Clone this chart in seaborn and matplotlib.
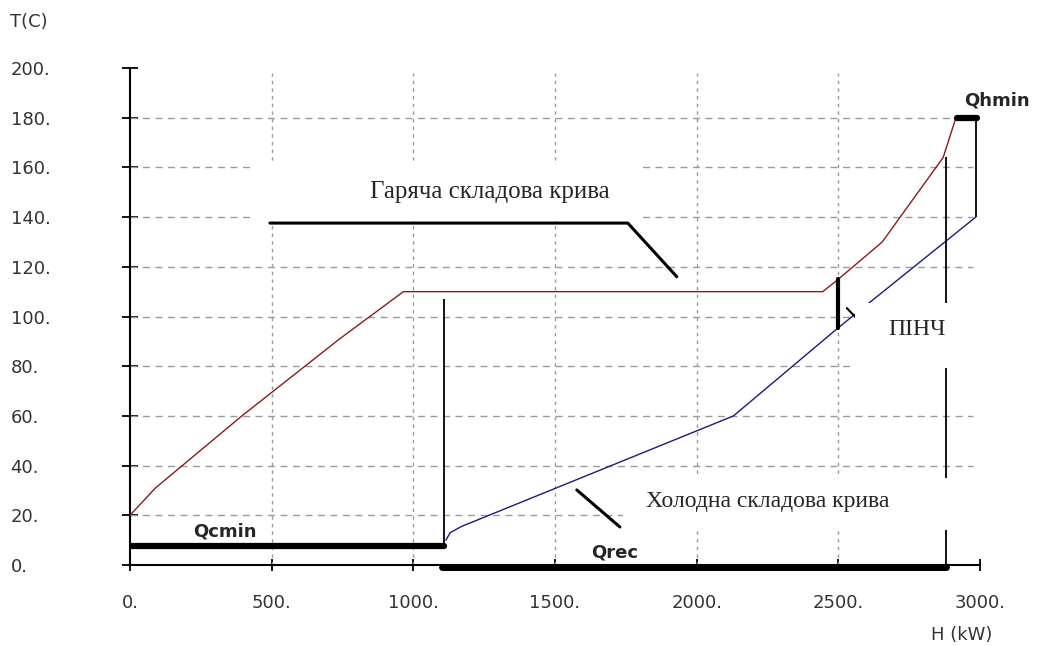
import pandas as pd
import numpy as np
import seaborn as sns
import matplotlib.pyplot as plt
from matplotlib.patches import Rectangle

# composite curves
hot_h = [0, 90, 395, 740, 965, 2445, 2500, 2655, 2870, 2915]
hot_t = [20, 31, 60, 91, 110, 110, 115, 130, 164, 180]
cold_h = [1115, 1130, 1170, 2130, 2500, 2985]
cold_t = [10, 13, 15.5, 60, 95.5, 140]

# energy targets (kW) and markers
qcmin = [0, 1110]
qcmin_t = 7.6
qrec = [1100, 2880]
qhmin = [2920, 2990]
qhmin_t = 180
pinch_h = 2500
pinch_t = [95.5, 115]
vert_h = [1108, 2880, 2985]
vert_lo = [8, 0, 140]
vert_hi = [107, 164, 180]

# pointer lines of the captions
hot_ptr_h = [494, 1757, 1930]
hot_ptr_t = [137.6, 137.6, 116]
cold_ptr_h = [1577, 1729]
cold_ptr_t = [30.2, 15.3]

x_ticks = [0, 500, 1000, 1500, 2000, 2500, 3000]
y_ticks = [0, 20, 40, 60, 80, 100, 120, 140, 160, 180, 200]

sns.set_theme(style='white')
plt.rcParams['font.family'] = ['DejaVu Sans']

fig = plt.figure(figsize=(10.43, 6.46), dpi=100)
ax = fig.add_axes([0.1246, 0.1254, 0.815, 0.7693])
ax.set_xlim(0, 3000)
ax.set_ylim(0, 200)

# grid: dashed horizontal, dotted vertical
ax.hlines(y_ticks[1:-1], 0, 2975, colors='#9a9a9a', linewidth=1, linestyles=(0, (5, 4)), zorder=1)
ax.vlines(x_ticks[1:-1], 0, 198, colors='#9a9a9a', linewidth=1, linestyles=(0, (2.5, 3)), zorder=1)

hot = pd.DataFrame({'H': hot_h, 'T': hot_t})
cold = pd.DataFrame({'H': cold_h, 'T': cold_t})
sns.lineplot(data=hot, x='H', y='T', sort=False, estimator=None, color='#8b1a1a', linewidth=1.0, ax=ax, zorder=3)
sns.lineplot(data=cold, x='H', y='T', sort=False, estimator=None, color='#1a1a80', linewidth=1.0, ax=ax, zorder=3)

# target bars
ax.plot(qcmin, [qcmin_t, qcmin_t], color='black', linewidth=4.5, solid_capstyle='round', zorder=4)
ax.plot(qrec, [-1, -1], color='black', linewidth=5, solid_capstyle='round', zorder=4, clip_on=False)
ax.plot(qhmin, [qhmin_t, qhmin_t], color='black', linewidth=4.5, solid_capstyle='round', zorder=4)
ax.vlines(vert_h, vert_lo, vert_hi, colors='black', linewidth=1.3, zorder=3)
ax.plot([pinch_h, pinch_h], pinch_t, color='black', linewidth=3, zorder=4)

ax.plot(hot_ptr_h, hot_ptr_t, color='black', linewidth=2.2, zorder=4)
ax.plot(cold_ptr_h, cold_ptr_t, color='black', linewidth=2.2, zorder=4)
ax.plot([2530, 2560], [103.4, 99.8], color='black', linewidth=1.5, zorder=4)

# white caption boxes
for x0, x1, y0, y1 in [(441, 1800, 138.5, 161), (2558, 3230, 79.3, 105.4), (1740, 2990, 14.1, 35)]:
    ax.add_patch(Rectangle((x0, y0), x1 - x0, y1 - y0, facecolor='white', edgecolor='none',
                           zorder=5, clip_on=False))

serif = ['Liberation Serif', 'DejaVu Serif']
ax.text(1270, 150, 'Гаряча складова крива', family=serif, fontsize=18, ha='center', va='center', zorder=6)
ax.text(2251, 25.4, 'Холодна складова крива', family=serif, fontsize=17, ha='center', va='center', zorder=6)
ax.text(2777, 94.6, 'ПІНЧ', family=serif, fontsize=17, ha='center', va='center', zorder=6)

ax.text(335, 13.3, 'Qcmin', fontsize=13, fontweight='bold', ha='center', va='center', zorder=6)
ax.text(1711, 5.2, 'Qrec', fontsize=13, fontweight='bold', ha='center', va='center', zorder=6)
ax.text(3059, 187, 'Qhmin', fontsize=13, fontweight='bold', ha='center', va='center', zorder=6)

# axes look
for s in ['top', 'right']:
    ax.spines[s].set_visible(False)
for s in ['left', 'bottom']:
    ax.spines[s].set_color('black')
    ax.spines[s].set_linewidth(1.5)

ax.set_xticks(x_ticks)
ax.set_xticklabels([f'{v}.' for v in x_ticks])
ax.set_yticks(y_ticks)
ax.set_yticklabels([f'{v}.' for v in y_ticks])
ax.tick_params(axis='y', left=True, direction='inout', length=12, width=1.3, color='black',
               pad=80, labelsize=13, labelcolor='#333333')
ax.tick_params(axis='x', bottom=True, direction='inout', length=8, width=1.3, color='black',
               pad=17, labelsize=13, labelcolor='#333333')
for lab in ax.get_yticklabels():
    lab.set_horizontalalignment('left')
ax.set_xlabel('')
ax.set_ylabel('')

fig.text(10 / 1043, 1 - 22 / 646, 'T(C)', fontsize=13, color='#333333', ha='left', va='center')
fig.text(962 / 1043, 1 - 635 / 646, 'H (kW)', fontsize=13, color='#333333', ha='center', va='center')

plt.savefig('out.png', dpi=100)
